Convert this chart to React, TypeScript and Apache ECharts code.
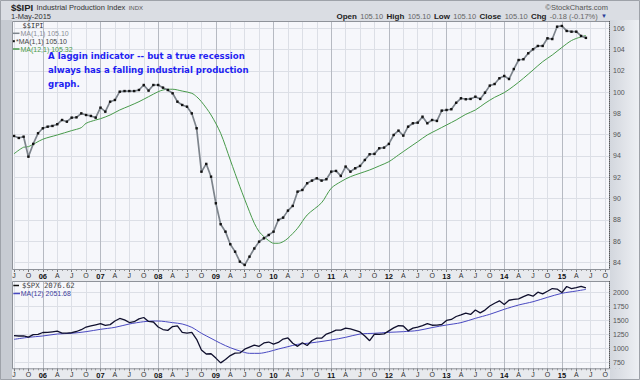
import React, { useEffect, useRef } from "react";
import * as echarts from "echarts";

// ---- axis labelling ----
const startYear = 2005;
const startMonth = 6; // month index 0 = July 2005
const quarterLetters = ["", "A", "J", "O"];
const monthMin = 0;
const monthMax = 126;
const lastAxisLabelMonth = 120;
const lastLabelMonth = 123;

const ipiTickMin = 84;
const ipiTickMax = 106;
const ipiTickStep = 2;
const spxTickMin = 750;
const spxTickMax = 2000;
const spxTickStep = 250;

// ---- $$IPI monthly values (index = month position) ----
const ipiValues = [
  95.88, 95.69, 95.81, 93.93, 95.13, 96.13, 96.6, 96.75, 96.82, 96.98,
  97.38, 97.22, 97.6, 97.63, 98.0, 97.85, 97.76, 97.6, 98.54, 98.16,
  99.1, 99.26, 100.04, 100.1, 100.1, 100.1, 100.2, 100.67, 100.14, 100.67,
  100.67, 100.42, 100.2, 99.89, 99.1, 98.79, 98.63, 98.0, 96.6, 92.52,
  93.25, 92.05, 89.55, 87.58, 86.88, 85.7, 85.0, 84.06, 83.75, 84.53,
  85.3, 85.94, 86.26, 86.57, 86.88, 87.98, 88.2, 88.86, 89.3, 90.64,
  90.8, 91.43, 91.68, 91.9, 91.68, 91.81, 92.52, 92.59, 92.12, 93.0,
  92.52, 92.84, 93.06, 93.62, 94.16, 94.19, 94.72, 94.78, 95.13, 95.97,
  96.38, 95.91, 96.75, 97.07, 97.13, 97.69, 97.07, 97.38, 97.29, 98.26,
  98.32, 98.39, 99.0, 99.42, 99.33, 99.36, 99.57, 99.36, 99.95, 100.61,
  100.76, 101.3, 101.52, 101.23, 102.17, 103.02, 103.09, 103.65, 104.03, 104.34,
  104.34, 105.06, 104.99, 106.15, 106.22, 105.75, 105.68, 105.68, 105.28, 105.1,
];

// ---- MA(12,1) of $$IPI, read at these month positions ----
const ipiMaMonths = [
  0, 2, 3, 6, 9, 12, 14, 15, 17, 18, 20, 22, 24, 26, 28, 30, 31, 32, 33, 35,
  37, 38, 39, 41, 43, 45, 47, 49, 50, 51, 52, 53, 54, 55, 56, 57, 59, 61, 64, 66,
  68, 70, 72, 74, 76, 78, 80, 82, 84, 86, 88, 90, 92, 94, 96, 98, 100, 102, 104, 106,
  108, 110, 112, 114, 116, 118, 119,
];
const ipiMaValues = [
  94.2, 94.82, 94.87, 95.57, 95.97, 96.38, 96.66, 97.07, 97.38, 97.5,
  97.85, 98.32, 98.7, 99.1, 99.57, 100.04, 100.2, 100.27, 100.27, 100.1,
  99.89, 99.57, 99.1, 97.85, 96.13, 93.62, 91.11, 88.76, 87.67, 86.88,
  86.41, 86.04, 85.79, 85.79, 85.94, 86.26, 87.2, 88.45, 89.6, 90.96,
  91.58, 92.05, 92.37, 92.68, 93.06, 93.46, 94.09, 94.72, 95.34, 95.97,
  96.44, 96.91, 97.38, 97.91, 98.32, 98.95, 99.51, 99.95, 100.58, 101.3,
  102.08, 102.86, 103.49, 104.2, 104.85, 105.2, 105.32,
];

// ---- $SPX monthly values ----
const spxValues = [
  1225, 1220, 1222, 1200, 1245, 1250, 1282, 1283, 1295, 1305,
  1270, 1272, 1278, 1300, 1332, 1380, 1400, 1420, 1440, 1408,
  1423, 1488, 1533, 1508, 1460, 1475, 1525, 1550, 1480, 1470,
  1380, 1335, 1320, 1388, 1400, 1283, 1270, 1285, 1160, 970,
  898, 903, 825, 740, 800, 870, 915, 918, 985, 1020,
  1055, 1035, 1095, 1112, 1075, 1105, 1165, 1185, 1090, 1035,
  1100, 1050, 1140, 1183, 1180, 1255, 1285, 1325, 1325, 1360,
  1345, 1320, 1292, 1220, 1135, 1252, 1248, 1258, 1312, 1365,
  1405, 1398, 1312, 1360, 1380, 1405, 1440, 1412, 1415, 1425,
  1498, 1515, 1568, 1598, 1630, 1605, 1685, 1633, 1682, 1755,
  1805, 1848, 1783, 1858, 1872, 1884, 1924, 1960, 1930, 2003,
  1972, 2018, 2067, 2058, 1995, 2104, 2067, 2085, 2107, 2077,
];

// ---- MA(12) of $SPX, read at these month positions ----
const spxMaMonths = [
  0, 3, 6, 9, 12, 15, 18, 21, 24, 27, 29, 30, 33, 35, 37, 39, 41, 43, 45, 47,
  49, 51, 53, 55, 57, 59, 61, 63, 66, 69, 72, 75, 78, 81, 84, 87, 90, 93, 96, 99,
  102, 105, 108, 111, 114, 117, 119,
];
const spxMaValues = [
  1160, 1196, 1220, 1255, 1268, 1297, 1339, 1374, 1434, 1475,
  1487, 1487, 1458, 1434, 1374, 1268, 1178, 1088, 1011, 952,
  910, 910, 940, 987, 1029, 1071, 1089, 1110, 1148, 1196,
  1255, 1268, 1285, 1297, 1318, 1370, 1416, 1458, 1535, 1607,
  1696, 1773, 1832, 1910, 1982, 2023, 2052,
];

const SANS = "'Liberation Sans', Arial, sans-serif";
const MONO = "'DejaVu Sans Mono', monospace";
const DEJAVU = "'DejaVu Sans', Verdana, sans-serif";

const monthText = (k: number) => {
  if (k % 3 !== 0) return "";
  const mm = startMonth + k;
  const m = ((mm % 12) + 12) % 12;
  if (m === 0) return "{y|" + String(startYear + Math.floor(mm / 12)).slice(2) + "}";
  return quarterLetters[m / 3] || "";
};
const xLabel = (val: number) => {
  const k = Math.round(val);
  if (k > lastAxisLabelMonth) return "";
  return monthText(k);
};

// layout (pixels)
const PL = 12;
const PR = 610;
const T1 = 21;
const B1 = 269;
const T2 = 281;
const B2 = 368.3;
const X0 = 14; // pixel of month position 0
const PX_PER_MONTH = 4.806;

function buildOption() {
  const pxPerUnitTop = 234 / (ipiTickMax - ipiTickMin);
  const topA = 28.3;
  const yA1min = ipiTickMin - (B1 - (topA + 234)) / pxPerUnitTop;
  const yA1max = ipiTickMax + (topA - T1) / pxPerUnitTop;
  const pxPerUnitBot = 70 / (spxTickMax - spxTickMin);
  const topB = 292.3;
  const yA2min = spxTickMin - (B2 - (topB + 70)) / pxPerUnitBot;
  const yA2max = spxTickMax + (topB - T2) / pxPerUnitBot;

  const gridRightMain = 640 - (X0 + PX_PER_MONTH * (monthMax - monthMin));
  const gridRightTicks = 640 - PR;
  const hiddenMax = monthMin + (PR - X0) / PX_PER_MONTH;

  const lightGrid = "#dcdfe6";
  const yearGrid = "#b6bac2";

  const xMain = (gridIndex: number) => ({
    type: "value",
    gridIndex,
    min: monthMin,
    max: monthMax,
    interval: 3,
    axisLine: { show: false },
    axisTick: { show: true, length: 3, lineStyle: { color: "#777" } },
    minorTick: { show: true, splitNumber: 3, length: 2, lineStyle: { color: "#999" } },
    axisLabel: {
      show: true,
      margin: 3,
      fontSize: 7,
      color: "#333",
      fontFamily: SANS,
      formatter: xLabel,
      showMinLabel: true,
      hideOverlap: false,
      rich: { y: { fontWeight: "bold", fontSize: 7.5, color: "#111", fontFamily: SANS } },
    },
    splitLine: {
      show: true,
      showMaxLine: false,
      lineStyle: { color: [lightGrid, lightGrid, yearGrid, lightGrid], width: 1 },
    },
  });
  const xHidden = (gridIndex: number) => ({
    type: "value",
    gridIndex,
    min: monthMin,
    max: hiddenMax,
    show: false,
  });
  const yTicks = (gridIndex: number, min: number, max: number, step: number) => ({
    type: "value",
    gridIndex,
    position: "right",
    min,
    max,
    interval: step,
    axisLine: { show: false },
    axisTick: { show: false },
    axisLabel: {
      margin: 3,
      fontSize: 7,
      color: "#555",
      fontFamily: SANS,
      formatter: (v: number) => String(v),
    },
    splitLine: { show: true, lineStyle: { color: lightGrid, width: 1 } },
  });

  const textBase = (x: number, y: number, text: string, style: any, z = 100) => ({
    type: "text",
    x,
    y,
    z,
    silent: true,
    style: {
      text,
      textVerticalAlign: "middle",
      verticalAlign: "middle",
      ...style,
    },
  });
  const legLine = (x1: number, x2: number, y: number, color: string, w = 1.5) => ({
    type: "line",
    z: 100,
    silent: true,
    shape: { x1, y1: y, x2, y2: y },
    style: { stroke: color, lineWidth: w },
  });
  const rightFill = () =>
    new echarts.graphic.LinearGradient(0, 0, 1, 0, [
      { offset: 0, color: "#d3d7de" },
      { offset: 1, color: "#eef0f4" },
    ]);

  const graphic: any[] = [
    { type: "rect", z: -30, silent: true, shape: { x: 0, y: 0, width: 640, height: 380 }, style: { fill: "#dadde3" } },
    { type: "rect", z: -29, silent: true, shape: { x: 0, y: 20, width: PL, height: 360 }, style: { fill: "#c7cbd2" } },
    { type: "rect", z: -29, silent: true, shape: { x: PR, y: 20, width: 640 - PR, height: 360 }, style: { fill: rightFill() } },
    { type: "rect", z: 40, silent: true, shape: { x: PR, y: B1 - 1, width: 640 - PR, height: T2 - B1 + 1 }, style: { fill: rightFill() } },
    { type: "rect", z: 40, silent: true, shape: { x: PR, y: B2, width: 640 - PR, height: 380 - B2 }, style: { fill: rightFill() } },
    { type: "rect", z: -28, silent: true, shape: { x: PL, y: T1, width: PR - PL, height: B1 - T1 }, style: { fill: "#f6f7fb" } },
    { type: "rect", z: -28, silent: true, shape: { x: PL, y: B1, width: PR - PL, height: T2 - B1 }, style: { fill: "#e8eaee" } },
    { type: "rect", z: -28, silent: true, shape: { x: PL, y: T2, width: PR - PL, height: B2 - T2 }, style: { fill: "#f6f7fb" } },
    { type: "rect", z: -28, silent: true, shape: { x: PL, y: B2, width: PR - PL, height: 379 - B2 }, style: { fill: "#e8eaee" } },
    // frames
    { type: "rect", z: 50, silent: true, shape: { x: PL + 0.5, y: T1 + 0.5, width: PR - PL - 1, height: B1 - T1 }, style: { fill: "none", stroke: "#8f939a", lineWidth: 1 } },
    { type: "rect", z: 50, silent: true, shape: { x: PL + 0.5, y: T2 + 0.5, width: PR - PL - 1, height: B2 - T2 }, style: { fill: "none", stroke: "#8f939a", lineWidth: 1 } },
    { type: "line", z: 51, silent: true, shape: { x1: PR - 0.5, y1: T1, x2: PR - 0.5, y2: B1 }, style: { stroke: "#555", lineWidth: 1, lineDash: [1, 1] } },
    { type: "line", z: 51, silent: true, shape: { x1: PR - 0.5, y1: T2, x2: PR - 0.5, y2: B2 }, style: { stroke: "#555", lineWidth: 1, lineDash: [1, 1] } },
    { type: "rect", z: 52, silent: true, shape: { x: 0.5, y: 0.5, width: 639, height: 379 }, style: { fill: "none", stroke: "#9ea2a9", lineWidth: 1 } },

    // header
    textBase(11, 7.5, "{a|$$IPI} {b|Industrial Production Index} {c|INDX}", {
      rich: {
        a: { fontFamily: SANS, fontWeight: "bold", fontSize: 9.5, fill: "#222", color: "#222" },
        b: { fontFamily: SANS, fontSize: 7.5, fill: "#333", color: "#333" },
        c: { fontFamily: SANS, fontSize: 6, fill: "#555", color: "#555" },
      },
    }),
    textBase(11, 16, "1-May-2015", { fontFamily: SANS, fontSize: 7.5, fill: "#333" }),
    textBase(608, 7, "\u00A9StockCharts.com", {
      fontFamily: SANS,
      fontSize: 7.5,
      fill: "#555",
      textAlign: "right",
      align: "right",
    }),
    textBase(
      607,
      16,
      "{l|Open} {v|105.10} {l|High} {v|105.10} {l|Low} {v|105.10} {l|Close} {v|105.10} {l|Chg} {v|-0.18 (-0.17%)} {d|\u25BC}",
      {
        textAlign: "right",
        align: "right",
        rich: {
          l: { fontFamily: SANS, fontWeight: "bold", fontSize: 8, fill: "#222", color: "#222" },
          v: { fontFamily: SANS, fontSize: 7.5, fill: "#666", color: "#666" },
          d: { fontFamily: SANS, fontSize: 6, fill: "#2a3f99", color: "#2a3f99" },
        },
      }
    ),

    // top panel legend
    textBase(22.5, 25.5, "$$IPI", { fontFamily: MONO, fontSize: 7, fill: "#333" }),
    legLine(13, 19.5, 33.3, "#7d848c"),
    textBase(20.5, 33.3, "MA(1,1) 105.10", { fontFamily: SANS, fontSize: 7, fill: "#8a8f96" }),
    { type: "rect", z: 100, silent: true, shape: { x: 12.8, y: 40.2, width: 2, height: 2 }, style: { fill: "#111" } },
    textBase(16, 41.3, "*MA(1,1) 105.10", { fontFamily: SANS, fontSize: 7, fill: "#444" }),
    legLine(13, 19.5, 49, "#47994a"),
    textBase(20.5, 49, "MA(12,1) 105.32", { fontFamily: SANS, fontSize: 7, fill: "#4a9a4a" }),

    // annotation
    {
      type: "text",
      x: 48,
      y: 49.5,
      z: 100,
      silent: true,
      style: {
        text:
          "A laggin indicator -- but a true recession\nalways has a falling industrial production\ngraph.",
        fontFamily: DEJAVU,
        fontWeight: "bold",
        fontSize: 8.6,
        lineHeight: 13.6,
        fill: "#1f1ff2",
        textVerticalAlign: "top",
        verticalAlign: "top",
      },
    },

    // bottom panel legend
    legLine(13.3, 19, 285.5, "#111"),
    textBase(22, 285.5, "$SPX 2076.62", { fontFamily: MONO, fontSize: 7.3, fill: "#444" }),
    legLine(13.3, 20, 293.5, "#4848c0"),
    textBase(20.7, 293.5, "MA(12) 2051.68", { fontFamily: SANS, fontSize: 7, fill: "#3c3c9c" }),
  ];

  return {
    animation: false,
    backgroundColor: "transparent",
    grid: [
      { left: X0, right: gridRightMain, top: T1, height: B1 - T1 },
      { left: X0, right: gridRightTicks, top: topA, height: 234 },
      { left: X0, right: gridRightMain, top: T2, height: B2 - T2 },
      { left: X0, right: gridRightTicks, top: topB, height: 70 },
    ],
    xAxis: [xMain(0), xHidden(1), xMain(2), xHidden(3)],
    yAxis: [
      { type: "value", gridIndex: 0, min: yA1min, max: yA1max, show: false },
      yTicks(1, ipiTickMin, ipiTickMax, ipiTickStep),
      { type: "value", gridIndex: 2, min: yA2min, max: yA2max, show: false },
      yTicks(3, spxTickMin, spxTickMax, spxTickStep),
    ],
    series: [
      {
        type: "line",
        name: "MA(12,1)",
        xAxisIndex: 0,
        yAxisIndex: 0,
        data: ipiMaMonths.map((m, i) => [m, ipiMaValues[i]]),
        showSymbol: false,
        smooth: 0.3,
        lineStyle: { color: "#47994a", width: 1 },
        z: 3,
      },
      {
        type: "line",
        name: "$$IPI",
        xAxisIndex: 0,
        yAxisIndex: 0,
        data: ipiValues.map((v, i) => [i, v]),
        symbol: "rect",
        symbolSize: 2.4,
        showSymbol: true,
        itemStyle: { color: "#111" },
        lineStyle: { color: "#7d848c", width: 1.7 },
        z: 4,
      },
      {
        type: "line",
        name: "MA(12)",
        xAxisIndex: 2,
        yAxisIndex: 2,
        data: spxMaMonths.map((m, i) => [m, spxMaValues[i]]),
        showSymbol: false,
        smooth: 0.3,
        lineStyle: { color: "#4848c0", width: 1 },
        z: 3,
      },
      {
        type: "line",
        name: "$SPX",
        xAxisIndex: 2,
        yAxisIndex: 2,
        data: spxValues.map((v, i) => [i, v]),
        showSymbol: false,
        lineStyle: { color: "#10102e", width: 1.3 },
        z: 4,
      },
    ],
    graphic,
  };
}

export default function App() {
  const ref = useRef<HTMLDivElement>(null);
  useEffect(() => {
    if (!ref.current) return;
    const chart = echarts.init(ref.current, null, { renderer: "svg" });
    const option: any = buildOption();
    chart.setOption(option);
    // month labels past the last axis label, placed through the axis scale
    const extra: any[] = [];
    for (let k = lastAxisLabelMonth + 3; k <= lastLabelMonth; k += 3) {
      const txt = monthText(k);
      [
        { xi: 0, y: B1 + 3 },
        { xi: 2, y: B2 + 3 },
      ].forEach(({ xi, y }) => {
        let px = Number(chart.convertToPixel({ xAxisIndex: xi }, k));
        if (!isFinite(px)) px = X0 + PX_PER_MONTH * (k - monthMin);
        extra.push({
          type: "text",
          x: px,
          y,
          z: 100,
          silent: true,
          style: {
            text: txt,
            fontFamily: SANS,
            fontSize: 7,
            fill: "#333",
            textAlign: "center",
            align: "center",
            textVerticalAlign: "top",
            verticalAlign: "top",
          },
        });
      });
    }
    chart.setOption({ graphic: [...option.graphic, ...extra] });
    return () => chart.dispose();
  }, []);
  return (
    <div
      ref={ref}
      style={{ position: "absolute", left: 0, top: 0, width: 640, height: 380 }}
    />
  );
}
